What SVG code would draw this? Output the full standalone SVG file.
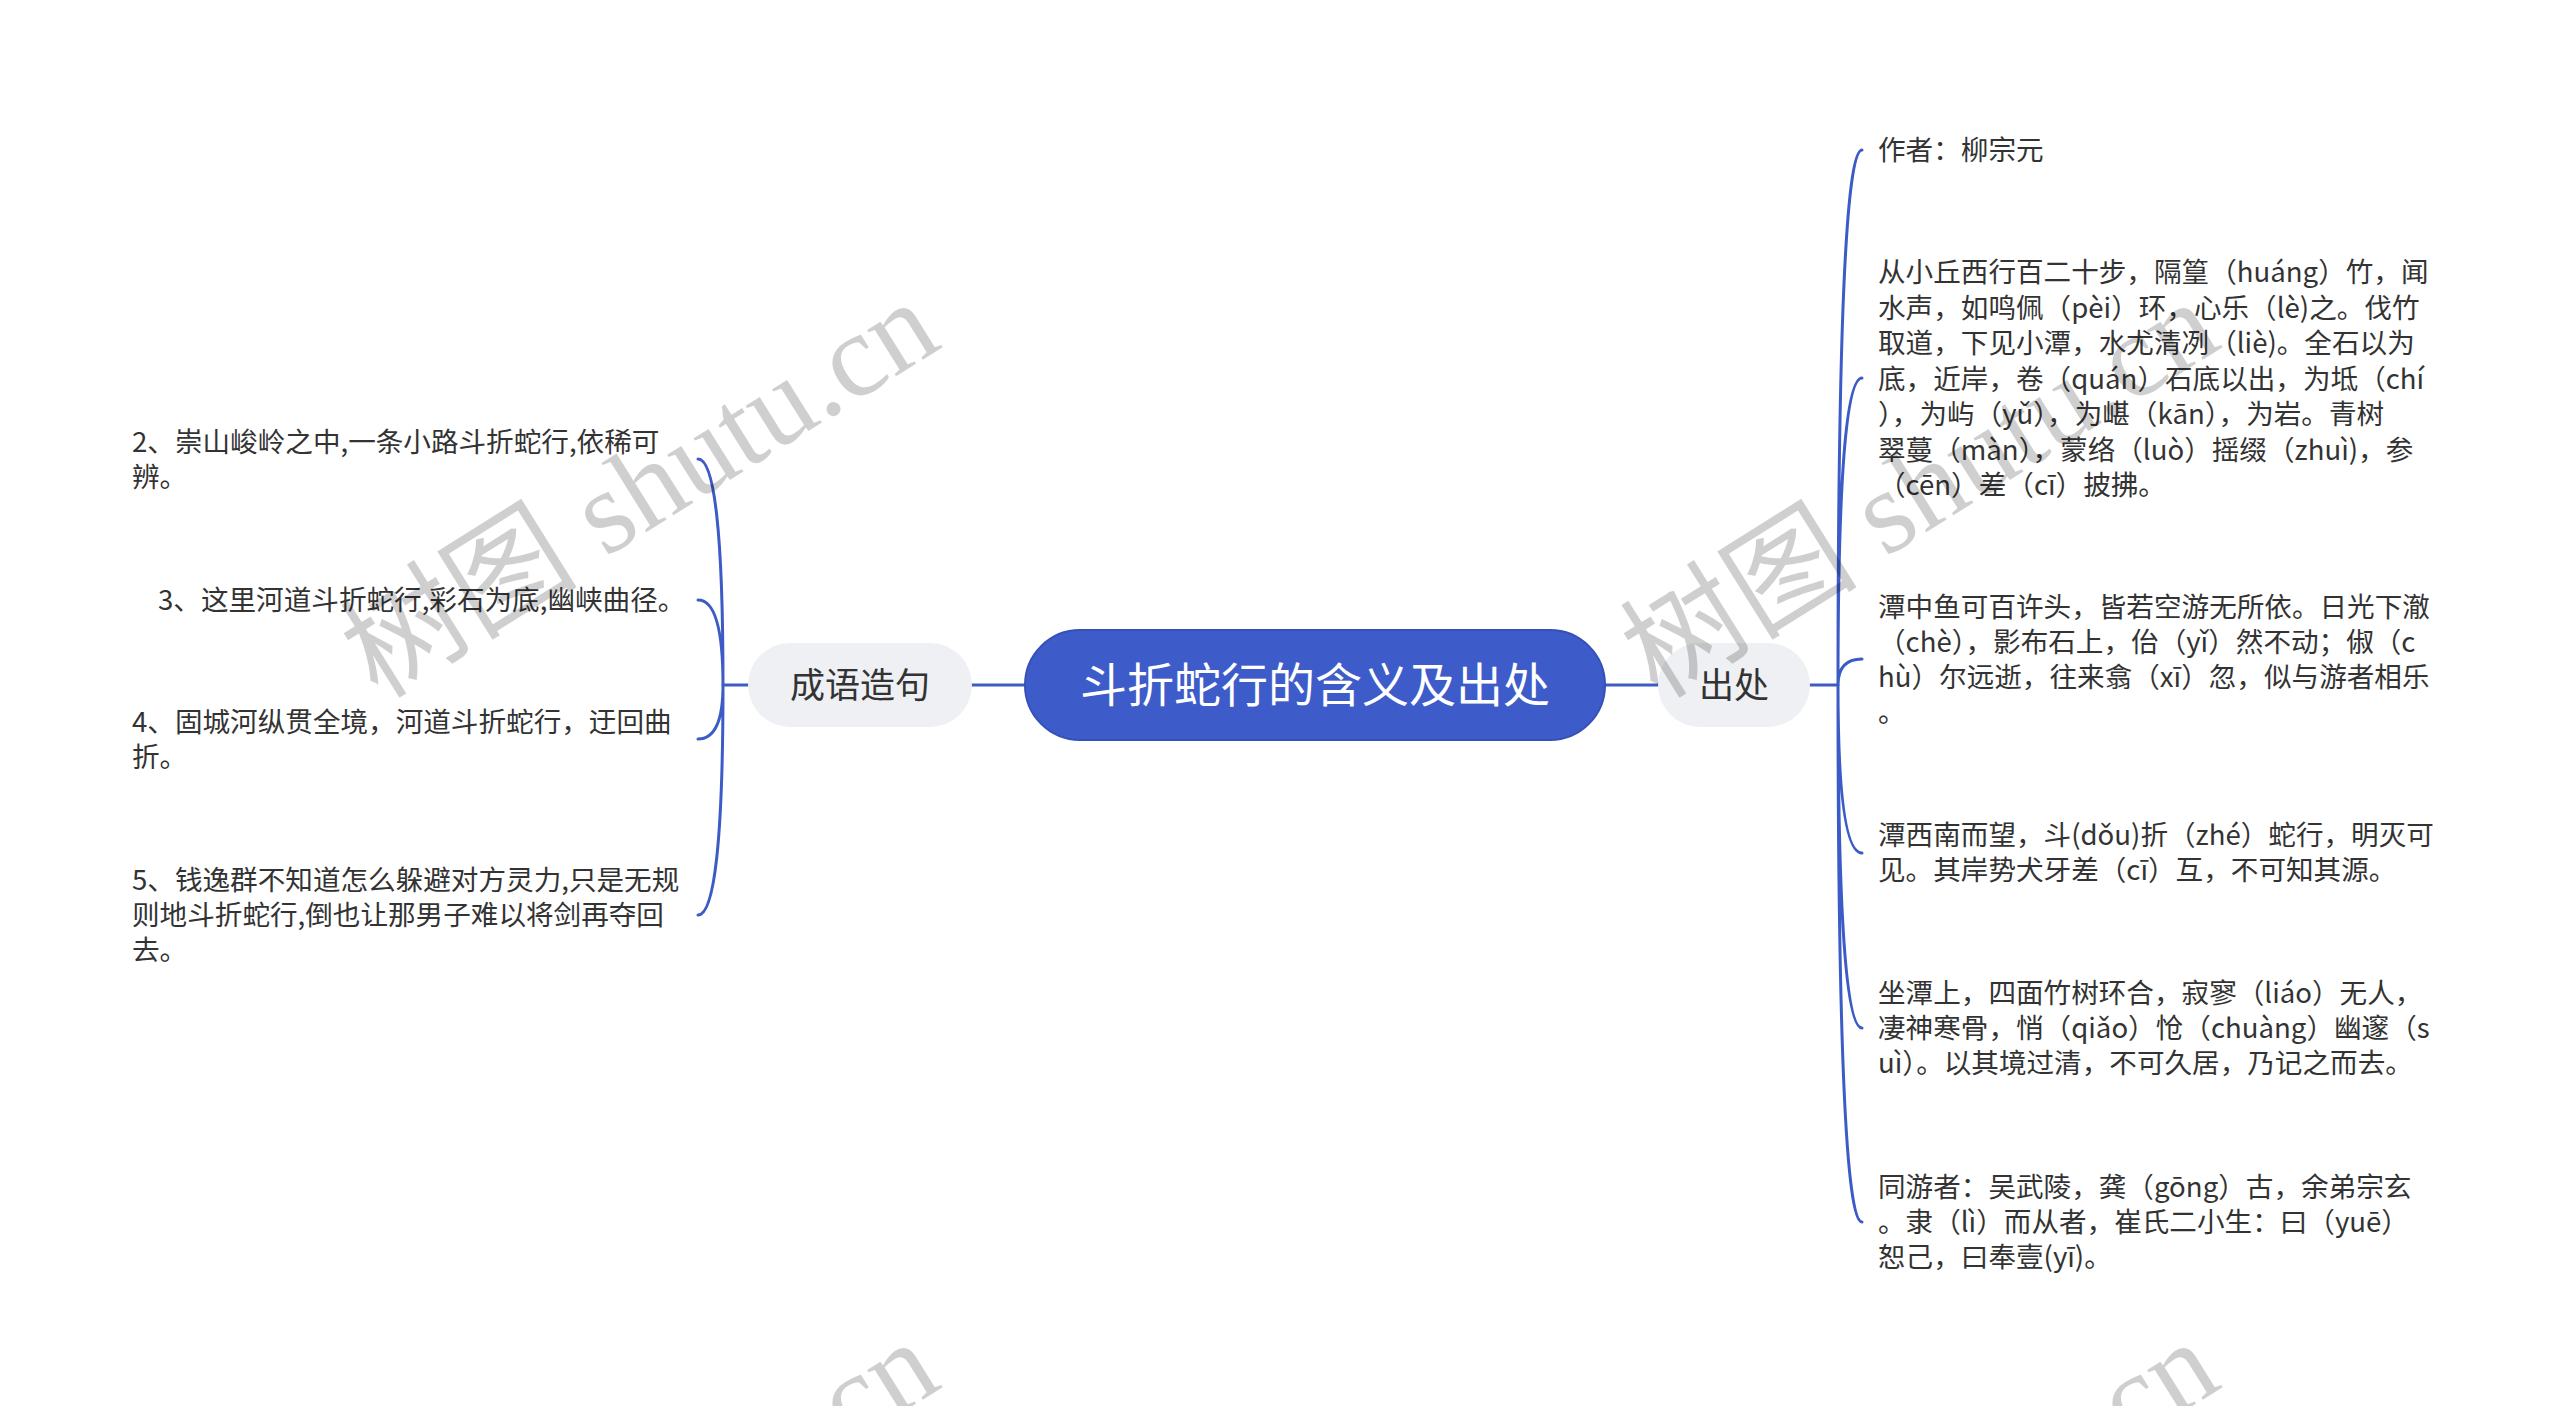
<svg xmlns="http://www.w3.org/2000/svg" width="2560" height="1406" viewBox="0 0 2560 1406">
<style>
.conn{fill:none;stroke:#3c5bc6;stroke-width:3;stroke-linecap:round}
.leaf{font-family:"Noto Sans CJK SC","Noto Sans",sans-serif;font-size:27.6px;fill:#333}
.sub{fill:#eef0f3}
.subt{font-family:"Noto Sans CJK SC","Noto Sans",sans-serif;font-size:35px;fill:#333;text-anchor:middle}
.wm{font-family:"Liberation Serif","Noto Sans CJK SC",serif;font-size:119px;fill:#000;fill-opacity:0.19}
</style>
<rect width="2560" height="1406" fill="#ffffff"/>
<g id="connectors">
<path class="conn" d="M972 685H1025M1605 685H1658M748 685H723M1810 685H1838"/>
<path class="conn" d="M723 685Q723 459 698 459M723 685Q723 600 698 600M723 685Q723 739 698 739M723 685Q723 915 698 915"/>
<path class="conn" d="M1838 685Q1838 150 1862 150M1838 685Q1838 378 1862 378M1838 685Q1838 659 1862 659M1838 685Q1838 853 1862 853M1838 685Q1838 1028 1862 1028M1838 685Q1838 1222 1862 1222"/>
</g>
<g id="root">
<rect x="1025" y="630" width="580" height="110" rx="55" fill="#3d5cc9" stroke="#3551b8" stroke-width="2"/>
<text x="1315" y="702" font-family="'Noto Sans CJK SC','Noto Sans',sans-serif" font-size="47" fill="#ffffff" text-anchor="middle">斗折蛇行的含义及出处</text>
</g>
<g id="node-chengyu">
<rect class="sub" x="748" y="643" width="224" height="84" rx="42"/>
<text class="subt" x="860" y="698">成语造句</text>
</g>
<g id="node-chuchu">
<rect class="sub" x="1658" y="643" width="152" height="84" rx="42"/>
<text class="subt" x="1734" y="698">出处</text>
</g>
<g id="leaf-l2"><text class="leaf" x="132" y="452">2、崇山峻岭之中,一条小路斗折蛇行,依稀可</text><text class="leaf" x="132" y="487">辨。</text></g>
<g id="leaf-l3"><text class="leaf" x="158" y="610">3、这里河道斗折蛇行,彩石为底,幽峡曲径。</text></g>
<g id="leaf-l4"><text class="leaf" x="132" y="732">4、固城河纵贯全境，河道斗折蛇行，迂回曲</text><text class="leaf" x="132" y="767">折。</text></g>
<g id="leaf-l5"><text class="leaf" x="132" y="890">5、钱逸群不知道怎么躲避对方灵力,只是无规</text><text class="leaf" x="132" y="925">则地斗折蛇行,倒也让那男子难以将剑再夺回</text><text class="leaf" x="132" y="960">去。</text></g>
<g id="leaf-r1"><text class="leaf" x="1878" y="160">作者：柳宗元</text></g>
<g id="leaf-r2">
<text class="leaf" x="1878" y="282">从小丘西行百二十步，隔篁（huáng）竹，闻</text>
<text class="leaf" x="1878" y="317.5">水声，如鸣佩（pèi）环，心乐（lè)之。伐竹</text>
<text class="leaf" x="1878" y="353">取道，下见小潭，水尤清冽（liè)。全石以为</text>
<text class="leaf" x="1878" y="388.5">底，近岸，卷（quán）石底以出，为坻（chí</text>
<text class="leaf" x="1878" y="424">），为屿（yǔ），为嵁（kān），为岩。青树</text>
<text class="leaf" x="1878" y="459.5">翠蔓（màn），蒙络（luò）摇缀（zhuì)，参</text>
<text class="leaf" x="1878" y="495">（cēn）差（cī）披拂。</text>
</g>
<g id="leaf-r3">
<text class="leaf" x="1878" y="617">潭中鱼可百许头，皆若空游无所依。日光下澈</text>
<text class="leaf" x="1878" y="652">（chè），影布石上，佁（yǐ）然不动；俶（c</text>
<text class="leaf" x="1878" y="687">hù）尔远逝，往来翕（xī）忽，似与游者相乐</text>
<text class="leaf" x="1878" y="722">。</text>
</g>
<g id="leaf-r4">
<text class="leaf" x="1878" y="845">潭西南而望，斗(dǒu)折（zhé）蛇行，明灭可</text>
<text class="leaf" x="1878" y="880">见。其岸势犬牙差（cī）互，不可知其源。</text>
</g>
<g id="leaf-r5">
<text class="leaf" x="1878" y="1003">坐潭上，四面竹树环合，寂寥（liáo）无人，</text>
<text class="leaf" x="1878" y="1038">凄神寒骨，悄（qiǎo）怆（chuàng）幽邃（s</text>
<text class="leaf" x="1878" y="1073">uì）。以其境过清，不可久居，乃记之而去。</text>
</g>
<g id="leaf-r6">
<text class="leaf" x="1878" y="1197">同游者：吴武陵，龚（gōng）古，余弟宗玄</text>
<text class="leaf" x="1878" y="1232">。隶（lì）而从者，崔氏二小生：曰（yuē）</text>
<text class="leaf" x="1878" y="1267">恕己，曰奉壹(yī)。</text>
</g>
<g id="watermarks">
<text class="wm" transform="translate(378,700) rotate(-32)">树图 shutu.cn</text>
<text class="wm" transform="translate(1658,700) rotate(-32)">树图 shutu.cn</text>
<text class="wm" transform="translate(378,1740) rotate(-32)">树图 shutu.cn</text>
<text class="wm" transform="translate(1658,1740) rotate(-32)">树图 shutu.cn</text>
</g>
</svg>
